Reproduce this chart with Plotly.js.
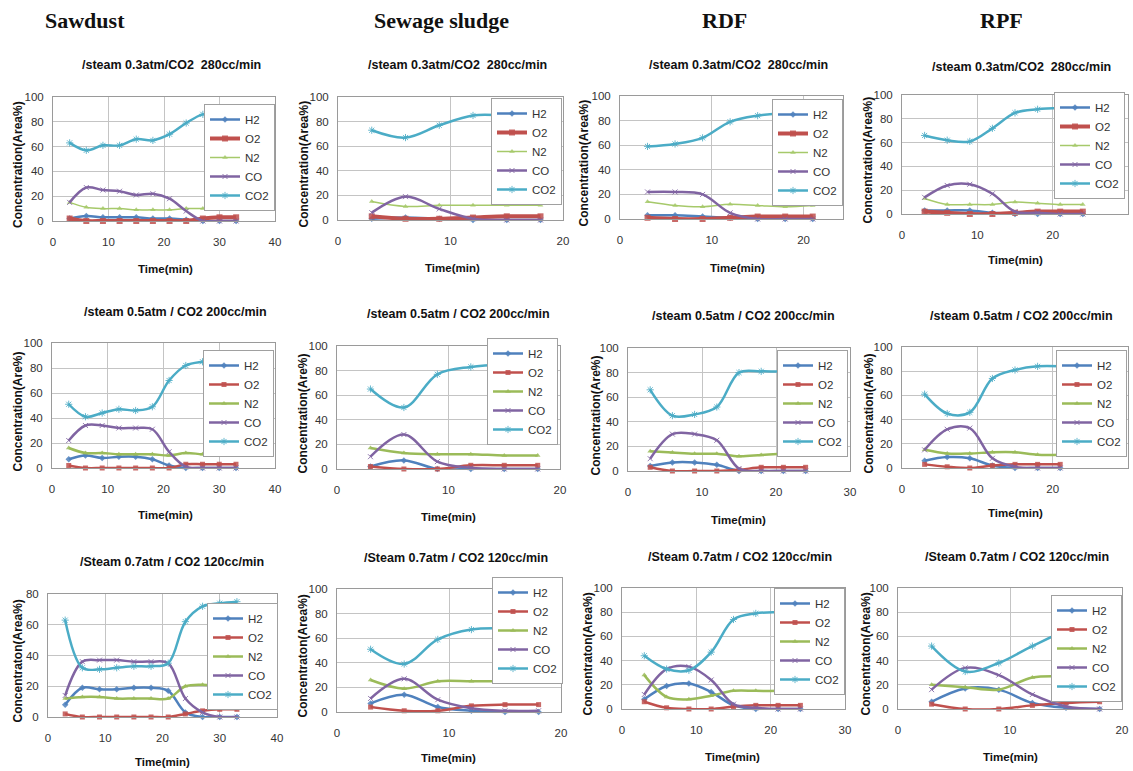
<!DOCTYPE html>
<html>
<head>
<meta charset="utf-8">
<script src="https://cdn.plot.ly/plotly-3.0.1.min.js"></script>
<style>html,body{margin:0;padding:0;background:#fff;}#chart{width:1133px;height:771px;}</style>
</head>
<body>
<div id="chart"></div>
<script>
// ---------- DATA ----------
const gases = ["H2", "O2", "N2", "CO", "CO2"];
const materials = ["Sawdust", "Sewage sludge", "RDF", "RPF"];
const conditionTitles = ["/steam 0.3atm/CO2  280cc/min", "/steam 0.5atm / CO2 200cc/min", "/Steam 0.7atm / CO2 120cc/min"];
const yAxisTitles = ["Concentration(Area%)", "Concentration(Are%)", "Concentraton(Area%)"];
const xAxisTitle = "Time(min)";

const time33 = [3, 6, 9, 12, 15, 18, 21, 24, 27, 30, 33];
const time18 = [3, 6, 9, 12, 15, 18];
const time21 = [3, 6, 9, 12, 15, 18, 21];
const time24 = [3, 6, 9, 12, 15, 18, 21, 24];

// Row 1: steam 0.3 atm / CO2 280 cc/min
const sawdust03_H2  = [2, 4, 3, 3, 3, 2, 2, 1, 0, 0, 0];
const sawdust03_O2  = [2, 0, 0, 0, 0, 0, 0, 0, 2, 3, 3];
const sawdust03_N2  = [15, 11, 10, 10, 9, 9, 9, 10, 10, 10, 10];
const sawdust03_CO  = [15, 27, 25, 24, 21, 22, 18, 8, 0, 0, 0];
const sawdust03_CO2 = [63, 57, 61, 61, 66, 65, 70, 79, 86, 86, 86];

const sludge03_H2  = [1, 2, 1, 0, 0, 0];
const sludge03_O2  = [3, 1, 1, 2, 3, 3];
const sludge03_N2  = [15, 11, 12, 12, 12, 12];
const sludge03_CO  = [6, 19, 9, 1, 0, 0];
const sludge03_CO2 = [73, 67, 77, 85, 85, 85];

const rdf03_H2  = [3, 3, 2, 1, 0, 0, 0];
const rdf03_O2  = [1, 0, 0, 1, 2, 2, 2];
const rdf03_N2  = [14, 11, 10, 12, 11, 10, 11];
const rdf03_CO  = [22, 22, 20, 5, 0, 0, 0];
const rdf03_CO2 = [59, 61, 66, 79, 84, 86, 86];

const rpf03_H2  = [3, 3, 3, 1, 0, 0, 0, 0];
const rpf03_O2  = [2, 1, 0, 0, 1, 2, 2, 2];
const rpf03_N2  = [13, 8, 8, 8, 10, 9, 8, 8];
const rpf03_CO  = [14, 24, 25, 17, 2, 1, 0, 0];
const rpf03_CO2 = [66, 62, 61, 72, 85, 88, 89, 89];

// Row 2: steam 0.5 atm / CO2 200 cc/min
const sawdust05_H2  = [7, 10, 8, 9, 9, 7, 2, 0, 0, 0, 0];
const sawdust05_O2  = [2, 0, 0, 0, 0, 0, 0, 3, 3, 3, 3];
const sawdust05_N2  = [16, 12, 12, 11, 11, 11, 10, 12, 11, 11, 11];
const sawdust05_CO  = [22, 34, 34, 32, 32, 31, 13, 1, 0, 0, 0];
const sawdust05_CO2 = [51, 41, 44, 47, 46, 49, 70, 82, 85, 86, 86];

const sludge05_H2  = [2, 7, 0, 0, 0, 0];
const sludge05_O2  = [2, 0, 0, 3, 3, 3];
const sludge05_N2  = [17, 13, 12, 12, 11, 11];
const sludge05_CO  = [10, 28, 6, 1, 0, 0];
const sludge05_CO2 = [65, 50, 77, 83, 85, 85];

const rdf05_H2  = [4, 7, 7, 5, 0, 0, 0, 0];
const rdf05_O2  = [3, 0, 0, 0, 1, 3, 3, 3];
const rdf05_N2  = [16, 15, 14, 14, 12, 13, 14, 13];
const rdf05_CO  = [10, 30, 30, 25, 2, 0, 0, 0];
const rdf05_CO2 = [66, 45, 46, 52, 80, 81, 81, 83];

const rpf05_H2  = [6, 9, 8, 2, 0, 0, 0];
const rpf05_O2  = [3, 1, 0, 2, 3, 3, 3];
const rpf05_N2  = [15, 12, 12, 13, 13, 11, 11];
const rpf05_CO  = [15, 32, 33, 8, 1, 0, 0];
const rpf05_CO2 = [61, 45, 46, 74, 81, 84, 84];

// Row 3: steam 0.7 atm / CO2 120 cc/min
const sawdust07_H2  = [8, 19, 18, 18, 19, 19, 17, 3, 0, 0, 0];
const sawdust07_O2  = [2, 0, 0, 0, 0, 0, 0, 2, 4, 5, 5];
const sawdust07_N2  = [12, 13, 13, 12, 12, 12, 12, 20, 21, 20, 20];
const sawdust07_CO  = [14, 36, 37, 37, 36, 36, 35, 12, 3, 0, 0];
const sawdust07_CO2 = [63, 32, 31, 32, 33, 33, 35, 62, 72, 74, 75];

const sludge07_H2  = [7, 14, 4, 1, 0, 0];
const sludge07_O2  = [4, 1, 1, 5, 6, 6];
const sludge07_N2  = [26, 19, 25, 25, 25, 25];
const sludge07_CO  = [11, 27, 10, 3, 1, 1];
const sludge07_CO2 = [51, 39, 59, 67, 68, 68];

const rdf07_H2  = [8, 19, 21, 14, 3, 0, 0, 0];
const rdf07_O2  = [6, 1, 0, 0, 2, 3, 3, 3];
const rdf07_N2  = [28, 10, 8, 11, 15, 15, 15, 16];
const rdf07_CO  = [12, 33, 35, 24, 4, 1, 0, 0];
const rdf07_CO2 = [44, 33, 32, 47, 74, 79, 80, 80];

const rpf07_H2  = [6, 17, 16, 5, 1, 0];
const rpf07_O2  = [4, 0, 0, 3, 5, 6];
const rpf07_N2  = [20, 18, 16, 26, 27, 27];
const rpf07_CO  = [16, 34, 28, 12, 2, 0];
const rpf07_CO2 = [52, 31, 38, 52, 64, 67];

// ---------- PANELS (row-major) ----------
const panelData = [
  [time33, [sawdust03_H2, sawdust03_O2, sawdust03_N2, sawdust03_CO, sawdust03_CO2]],
  [time18, [sludge03_H2, sludge03_O2, sludge03_N2, sludge03_CO, sludge03_CO2]],
  [time21, [rdf03_H2, rdf03_O2, rdf03_N2, rdf03_CO, rdf03_CO2]],
  [time24, [rpf03_H2, rpf03_O2, rpf03_N2, rpf03_CO, rpf03_CO2]],
  [time33, [sawdust05_H2, sawdust05_O2, sawdust05_N2, sawdust05_CO, sawdust05_CO2]],
  [time18, [sludge05_H2, sludge05_O2, sludge05_N2, sludge05_CO, sludge05_CO2]],
  [time24, [rdf05_H2, rdf05_O2, rdf05_N2, rdf05_CO, rdf05_CO2]],
  [time21, [rpf05_H2, rpf05_O2, rpf05_N2, rpf05_CO, rpf05_CO2]],
  [time33, [sawdust07_H2, sawdust07_O2, sawdust07_N2, sawdust07_CO, sawdust07_CO2]],
  [time18, [sludge07_H2, sludge07_O2, sludge07_N2, sludge07_CO, sludge07_CO2]],
  [time24, [rdf07_H2, rdf07_O2, rdf07_N2, rdf07_CO, rdf07_CO2]],
  [time18, [rpf07_H2, rpf07_O2, rpf07_N2, rpf07_CO, rpf07_CO2]]
];

// ---------- GEOMETRY (pixels) ----------
const W = 1133, H = 771;
// plot box: left, right, top, bottom
const boxes = [
  [53, 275, 97, 221], [338, 563, 97, 220], [620, 843, 96, 219], [902, 1128, 95, 214],
  [52, 275, 343, 468], [337, 560, 346, 469], [628, 850, 348, 471], [902, 1128, 347, 468],
  [48, 277, 594, 717], [337, 561, 589, 712], [622, 845, 588, 709], [898, 1122, 588, 709]
];
const xMax = [40, 20, 24.3, 30, 40, 20, 30, 30, 40, 20, 30, 20];
const yMax = [100, 100, 100, 100, 100, 100, 100, 100, 80, 100, 100, 100];
// legend: right, top
const legPos = [
  [275, 104], [562, 98], [843, 99], [1125, 92],
  [274, 350], [558, 338], [848, 350], [1127, 350],
  [278, 603], [563, 577], [845, 588], [1122, 595]
];
const titlePos = [
  [171, 65], [457, 65], [738, 65], [1021, 67],
  [175, 312], [458, 314], [743, 316], [1021, 316],
  [172, 562], [456, 558], [740, 557], [1017, 557]
];
const xTitlePos = [
  [165, 269], [452, 268], [737, 268], [1015, 260],
  [165, 515], [448, 517], [738, 520], [1015, 513],
  [162, 762], [448, 758], [732, 757], [1010, 757]
];
const yTitleX = [18, 303, 583, 867, 17, 302, 595, 868, 17, 302, 587, 865];
const headerPos = [[85, 20], [442, 20], [725, 20], [1001, 20]];

const colors = ["#4F81BD", "#C0504D", "#9BBB59", "#8064A2", "#4BACC6"];
const symbols = ["diamond", "square", "triangle-up", "x-thin-open", "asterisk-open"];
const markerSizes = [5, 5, 5, 5, 6];

const traces = [];
const layout = {
  width: W, height: H,
  margin: {l: 0, r: 0, t: 0, b: 0},
  paper_bgcolor: "#ffffff",
  plot_bgcolor: "#ffffff",
  font: {family: "Liberation Sans, Arial, sans-serif", color: "#222"},
  annotations: [],
  hovermode: false
};

panelData.forEach((p, i) => {
  const k = i + 1;
  const row = Math.floor(i / 4);
  const xa = k === 1 ? "x" : "x" + k;
  const ya = k === 1 ? "y" : "y" + k;
  const lg = k === 1 ? "legend" : "legend" + k;
  const [l, r, t, b] = boxes[i];
  gases.forEach((g, gi) => {
    let lw = 2.5;
    let c = colors[gi];
    let ms = markerSizes[gi];
    if (row === 0 && gi === 1) { lw = 4; ms = 6; }
    if (row === 0 && gi === 2) { lw = 1.5; c = "#A6C96A"; }
    traces.push({
      type: "scatter",
      mode: "lines+markers",
      x: p[0],
      y: p[1][gi],
      name: g,
      xaxis: xa, yaxis: ya,
      legend: lg,
      cliponaxis: false,
      line: {shape: "spline", smoothing: 1, color: c, width: lw},
      marker: {
        symbol: symbols[gi],
        size: ms,
        color: c,
        opacity: 0.85,
        line: {color: c, width: gi >= 3 ? 1 : 0}
      }
    });
  });
  layout[(k === 1 ? "xaxis" : "xaxis" + k)] = {
    domain: [l / W, r / W], anchor: ya,
    range: [0, xMax[i]], dtick: 10, tick0: 0,
    showgrid: true, gridcolor: "#c4c4c4", gridwidth: 1,
    showline: true, mirror: true, linecolor: "#9a9a9a", linewidth: 1,
    zeroline: false, ticks: "", ticklabelstandoff: 10,
    tickfont: {size: 11.5, color: "#333"}, fixedrange: true
  };
  layout[(k === 1 ? "yaxis" : "yaxis" + k)] = {
    domain: [1 - b / H, 1 - t / H], anchor: xa,
    range: [0, yMax[i]], dtick: 20, tick0: 0,
    showgrid: true, gridcolor: "#c4c4c4", gridwidth: 1,
    showline: true, mirror: true, linecolor: "#9a9a9a", linewidth: 1,
    zeroline: false, ticks: "", ticklabelstandoff: 6,
    tickfont: {size: 11.5, color: "#333"}, fixedrange: true
  };
  layout[lg] = {
    x: legPos[i][0] / W, y: 1 - legPos[i][1] / H,
    xanchor: "right", yanchor: "top",
    bgcolor: "#ffffff", bordercolor: "#a0a0a0", borderwidth: 1,
    font: {size: 11.5, color: "#333"},
    tracegroupgap: 0, itemwidth: 30
  };
  layout.annotations.push({
    xref: "paper", yref: "paper",
    x: titlePos[i][0] / W, y: 1 - titlePos[i][1] / H,
    xanchor: "center", yanchor: "middle", showarrow: false,
    text: "<b>" + conditionTitles[row] + "</b>",
    font: {size: 12.5, color: "#111"}
  });
  layout.annotations.push({
    xref: "paper", yref: "paper",
    x: xTitlePos[i][0] / W, y: 1 - xTitlePos[i][1] / H,
    xanchor: "center", yanchor: "middle", showarrow: false,
    text: "<b>" + xAxisTitle + "</b>",
    font: {size: 11.5, color: "#111"}
  });
  layout.annotations.push({
    xref: "paper", yref: "paper",
    x: yTitleX[i] / W, y: 1 - ((t + b) / 2 + 6) / H,
    xanchor: "center", yanchor: "middle", showarrow: false,
    textangle: -90,
    text: "<b>" + yAxisTitles[row] + "</b>",
    font: {size: 12, color: "#111"}
  });
});

materials.forEach((m, j) => {
  layout.annotations.push({
    xref: "paper", yref: "paper",
    x: headerPos[j][0] / W, y: 1 - headerPos[j][1] / H,
    xanchor: "center", yanchor: "middle", showarrow: false,
    text: "<b>" + m + "</b>",
    font: {family: "Liberation Serif, Times New Roman, serif", size: 22, color: "#111"}
  });
});

Plotly.newPlot("chart", traces, layout, {displayModeBar: false, staticPlot: true});
</script>
</body>
</html>
